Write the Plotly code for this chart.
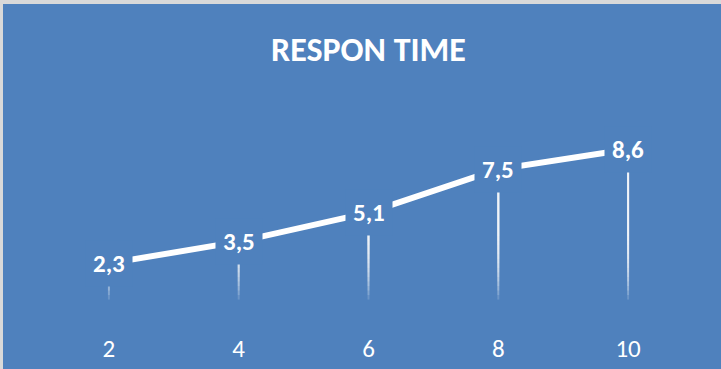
import plotly.graph_objects as go

categories = ["2", "4", "6", "8", "10"]
values = [2.3, 3.5, 5.1, 7.5, 8.6]
value_labels = ["2,3", "3,5", "5,1", "7,5", "8,6"]
title_text = "RESPON TIME"

BG = "#4f81bd"
W, H = 721, 369
L, R, T, B = 44, 28, 124, 64
YMAX = 10
FONT = "Carlito, Calibri, Lato, sans-serif"

pw, ph = W - L - R, H - T - B
def px(xp):
    return (xp - L) / pw
def py(yp):
    return (H - B - yp) / ph

fig = go.Figure()

# drop lines with a fade towards the axis (stacked semi-transparent error bars)
levels = [0.3 + 0.25 * k for k in range(15)]
for lv in levels:
    fig.add_trace(go.Scatter(
        x=categories, y=values, mode="markers",
        marker=dict(size=1, opacity=0),
        error_y=dict(type="data", symmetric=False,
                     array=[0] * len(values),
                     arrayminus=[max(v - lv, 0) for v in values],
                     color="rgba(255,255,255,0.16)", thickness=2, width=0),
        hoverinfo="skip", showlegend=False))

fig.add_trace(go.Scatter(
    x=categories, y=values, mode="lines",
    line=dict(color="white", width=6),
    showlegend=False))

for i, (v, t) in enumerate(zip(values, value_labels)):
    fig.add_annotation(x=i, y=v, xref="x", yref="y", text=f"<b>{t}</b>",
                       showarrow=False, bgcolor=BG, borderpad=7,
                       font=dict(family=FONT, size=25, color="white"))

fig.add_annotation(x=0.5, y=py(50), xref="paper", yref="paper",
                   yanchor="middle", xanchor="center",
                   text=f"<b>{title_text}</b>", showarrow=False,
                   font=dict(family=FONT, size=34, color="white"))

# grey frame edges (top and left)
fig.add_shape(type="rect", xref="paper", yref="paper", x0=px(0), x1=px(W),
              y0=py(4), y1=py(0), fillcolor="#d9d9d9", line_width=0, layer="above")
fig.add_shape(type="rect", xref="paper", yref="paper", x0=px(0), x1=px(3),
              y0=py(H), y1=py(0), fillcolor="#d9d9d9", line_width=0, layer="above")

fig.update_layout(
    width=W, height=H, margin=dict(l=L, r=R, t=T, b=B, autoexpand=False),
    paper_bgcolor=BG, plot_bgcolor=BG,
    xaxis=dict(type="category", range=[-0.5, len(categories) - 0.5],
               automargin=False,
               showgrid=False, zeroline=False, showline=False,
               ticks="", ticklabelstandoff=26,
               tickfont=dict(family=FONT, size=25, color="white")),
    yaxis=dict(range=[0, YMAX], visible=False, showgrid=False, zeroline=False,
               automargin=False),
)

fig.write_html("out.html")
